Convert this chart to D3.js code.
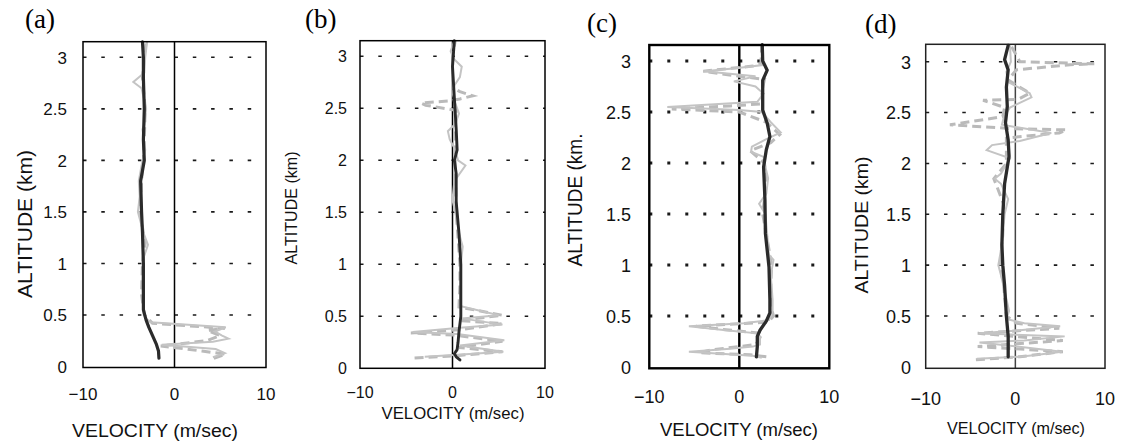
<!DOCTYPE html>
<html>
<head>
<meta charset="utf-8">
<script src="https://cdn.jsdelivr.net/npm/d3@7"></script>
<style>
body { margin: 0; background: #fff; }
</style>
</head>
<body>
<svg id="chart" width="1121" height="444"></svg>
<script>
// tick values
var altTicks = [0, 0.5, 1, 1.5, 2, 2.5, 3];
var velTicks = [-10, 0, 10];
var panelNames = ["(a)", "(b)", "(c)", "(d)"];

// each point: [altitude (km), velocity (m/sec)]
// (a)
var aDark = [[0.08,-1.7],[0.15,-1.75],[0.22,-2.0],[0.3,-2.4],[0.38,-2.8],[0.45,-3.1],[0.55,-3.4],[0.8,-3.4],[1.0,-3.4],[1.3,-3.5],[1.5,-3.6],[1.8,-3.7],[2.0,-3.3],[2.2,-3.4],[2.5,-3.3],[2.8,-3.4],[3.0,-3.4],[3.15,-3.5]];
var aSolid = [[0.09,4.2],[0.13,5.5],[0.17,4.5],[0.21,-1.4],[0.24,4.2],[0.27,5.9],[0.3,5.2],[0.34,4.4],[0.38,5.6],[0.43,-2.6],[0.47,-3.2],[0.6,-3.4],[0.8,-3.5],[1.05,-3.4],[1.18,-2.9],[1.3,-3.4],[1.5,-4.0],[1.65,-3.8],[1.8,-3.9],[1.95,-3.6],[2.1,-3.2],[2.3,-3.5],[2.35,-3.3],[2.5,-3.1],[2.7,-3.6],[2.76,-4.5],[2.85,-3.3],[3.0,-3.2],[3.15,-3.0]];
var aDashed = [[0.08,4.3],[0.12,5.6],[0.15,3.0],[0.2,-1.5],[0.25,3.5],[0.3,5.0],[0.35,3.6],[0.37,5.5],[0.42,-2.4],[0.5,-3.3],[0.7,-3.6],[1.0,-3.5],[1.2,-3.2],[1.5,-3.8],[1.8,-3.6],[2.0,-3.4],[2.2,-3.3],[2.5,-3.2],[2.8,-3.5],[3.0,-3.3],[3.15,-3.1]];

// (b)
var bDark = [[0.08,0.8],[0.11,0.4],[0.14,0.2],[0.18,0.5],[0.25,0.6],[0.35,0.7],[0.5,0.9],[0.7,0.9],[1.0,0.9],[1.15,0.8],[1.3,0.7],[1.6,0.4],[1.87,0.4],[2.0,0.2],[2.1,0.5],[2.3,0.4],[2.6,0.2],[2.9,0.0],[3.15,0.2]];
var bSolid = [[0.11,-3.0],[0.13,0.6],[0.16,5.5],[0.22,0.8],[0.27,5.6],[0.33,0.5],[0.35,-4.3],[0.39,0.8],[0.42,5.4],[0.48,1.0],[0.51,5.0],[0.6,0.8],[0.8,0.9],[1.0,0.9],[1.17,1.1],[1.3,0.7],[1.5,0.3],[1.62,0.0],[1.8,0.2],[1.95,1.4],[2.0,0.6],[2.1,0.3],[2.2,-0.3],[2.28,-0.5],[2.35,0.3],[2.45,0.7],[2.55,0.3],[2.65,0.0],[2.72,0.2],[2.8,0.8],[2.9,1.0],[2.97,0.2],[3.05,-0.2],[3.15,0.2]];
var bDashed = [[0.1,-4.1],[0.12,0.2],[0.16,5.4],[0.2,0.7],[0.26,5.4],[0.32,0.1],[0.34,-4.5],[0.37,0.7],[0.43,5.4],[0.46,0.7],[0.51,5.4],[0.59,0.7],[0.8,0.8],[1.0,0.8],[1.5,0.4],[2.0,0.3],[2.3,0.3],[2.48,0.4],[2.53,-2.9],[2.55,-3.4],[2.57,-0.5],[2.59,0.8],[2.62,2.2],[2.66,0.8],[2.7,0.0],[3.0,0.0],[3.15,0.3]];

// (c)
var cDark = [[0.1,1.9],[0.2,2.0],[0.3,2.0],[0.36,2.3],[0.45,3.0],[0.53,3.4],[0.66,3.4],[0.98,3.3],[1.31,2.9],[1.64,2.85],[1.96,2.7],[2.13,3.0],[2.26,3.4],[2.39,3.1],[2.52,2.6],[2.81,2.6],[2.91,3.1],[3.0,2.6],[3.16,2.55]];
var cSolid = [[0.09,2.5],[0.11,1.5],[0.15,-5.6],[0.18,-1.0],[0.2,1.5],[0.22,2.3],[0.3,2.3],[0.33,2.0],[0.36,-1.5],[0.4,-5.6],[0.43,0.5],[0.46,3.3],[0.55,3.7],[0.66,3.7],[0.9,3.5],[1.05,3.8],[1.1,3.3],[1.3,3.1],[1.5,2.9],[1.6,2.2],[1.7,3.0],[1.85,3.2],[2.0,2.8],[2.06,2.7],[2.11,1.3],[2.16,1.4],[2.23,2.9],[2.3,4.6],[2.4,3.5],[2.5,2.5],[2.52,0.0],[2.55,-8.0],[2.6,2.0],[2.68,2.7],[2.75,1.8],[2.8,-0.6],[2.85,1.8],[2.9,-3.9],[2.93,-0.4],[2.96,2.6],[3.16,2.6]];
var cDashed = [[0.1,3.0],[0.12,1.2],[0.14,-4.5],[0.17,-3.0],[0.2,0.0],[0.22,1.8],[0.27,2.2],[0.33,2.5],[0.35,0.2],[0.37,-2.0],[0.4,-4.8],[0.44,3.2],[0.5,3.8],[0.6,3.5],[0.8,3.5],[1.0,3.6],[1.2,3.2],[1.5,2.6],[1.8,3.0],[2.0,2.8],[2.12,1.2],[2.2,3.5],[2.28,4.5],[2.4,3.0],[2.5,0.0],[2.53,-7.5],[2.56,-1.0],[2.58,2.6],[2.7,2.5],[2.82,2.8],[2.85,0.0],[2.9,-4.0],[2.95,1.5],[2.97,2.4],[3.16,2.5]];

// (d)
var dDark = [[0.1,-0.8],[0.3,-0.8],[0.4,-0.9],[0.5,-1.0],[0.8,-1.2],[1.0,-1.4],[1.2,-1.5],[1.5,-1.4],[1.8,-1.2],[2.07,-0.7],[2.23,-0.8],[2.4,-1.1],[2.56,-0.9],[2.75,-1.0],[2.92,-0.8],[3.02,-1.2],[3.16,-0.8]];
var dSolid = [[0.08,-4.3],[0.1,0.5],[0.12,2.5],[0.15,5.2],[0.2,0.2],[0.24,-4.0],[0.26,1.0],[0.3,5.5],[0.33,-4.0],[0.36,0.5],[0.4,5.0],[0.43,1.0],[0.47,-1.0],[0.55,-0.7],[0.75,-1.2],[0.9,-1.6],[1.0,-1.9],[1.2,-1.5],[1.5,-1.2],[1.65,-0.8],[1.8,-1.6],[1.85,-2.3],[1.9,-1.6],[2.05,-0.6],[2.13,-3.2],[2.18,-2.6],[2.22,0.5],[2.3,4.0],[2.38,-1.5],[2.45,-1.3],[2.55,-0.6],[2.65,1.8],[2.69,1.6],[2.8,-0.8],[2.9,-1.0],[3.0,-0.5],[3.16,-0.6]];
var dDashed = [[0.07,-4.4],[0.1,0.5],[0.15,5.3],[0.2,-4.2],[0.26,5.3],[0.33,-4.2],[0.38,4.9],[0.43,0.1],[0.5,-1.0],[0.8,-1.3],[1.0,-1.7],[1.3,-1.4],[1.6,-1.3],[1.85,-2.4],[2.0,-1.0],[2.25,-1.0],[2.3,4.9],[2.33,5.7],[2.34,0.1],[2.38,-7.3],[2.46,-1.4],[2.55,-1.2],[2.62,-3.6],[2.63,0.3],[2.69,1.6],[2.82,-0.8],[2.92,0.1],[2.97,6.1],[2.98,8.8],[3.0,0.5],[3.16,-0.5]];

// layout of the four panels
var panels = [
    { dark: aDark, solid: aSolid, dashed: aDashed,
      left: 83, right: 266, y0: 366.5, y3: 57.3, top: 41.7, bottom: 367.5,
      frame: 1.5, grid: "3.5,14.8", gridW: 1.6, darkW: 3.2,
      lab: [25, 28], yT: [32, 224, 148, 21], xT: [155, 437, 166, 18],
      tickR: 67, tickB: 400, tickSize: 17 },
    { dark: bDark, solid: bSolid, dashed: bDashed,
      left: 360, right: 545, y0: 368.3, y3: 56.3, top: 40.7, bottom: 368.3,
      frame: 1.5, grid: "3.5,14.8", gridW: 1.6, darkW: 2.9,
      lab: [305, 28], yT: [297, 208, 113, 16.5], xT: [453, 419, 143, 16.5],
      tickR: 347, tickB: 398, tickSize: 16 },
    { dark: cDark, solid: cSolid, dashed: cDashed,
      left: 649.3, right: 829.3, y0: 367, y3: 61, top: 45, bottom: 368.3,
      frame: 2.4, grid: "3,15", gridW: 3, darkW: 3.3,
      lab: [587, 31.5], yT: [581.7, 200, 133, 19.5], xT: [739, 436, 158, 17.5],
      tickR: 631, tickB: 403, tickSize: 18 },
    { dark: dDark, solid: dSolid, dashed: dDashed,
      left: 925.7, right: 1105, y0: 366.9, y3: 61.7, top: 44.3, bottom: 368.3,
      frame: 1.5, grid: "3.5,14.8", gridW: 1.6, darkW: 3.3,
      lab: [865, 33], yT: [868, 225, 137, 19], xT: [1016, 434, 138, 17],
      tickR: 911, tickB: 405, tickSize: 18 }
];
var yTitles = ["ALTITUDE (km)", "ALTITUDE (km)", "ALTITUDE (km.", "ALTITUDE (km)"];

var svg = d3.select("#chart");

panels.forEach(function(p, i) {
    var x = d3.scaleLinear().domain([-10, 10]).range([p.left, p.right]);
    var y = d3.scaleLinear().domain([0, 3]).range([p.y0, p.y3]);
    var g = svg.append("g");

    // dotted grid lines
    g.selectAll(".grid")
        .data(altTicks.filter(function(d) { return d > 0; }))
        .enter().append("line")
        .attr("x1", p.left).attr("x2", p.right)
        .attr("y1", function(d) { return y(d); })
        .attr("y2", function(d) { return y(d); })
        .attr("stroke", "#1a1a1a")
        .attr("stroke-width", p.gridW)
        .attr("stroke-dasharray", p.grid);

    // zero line
    g.append("line")
        .attr("x1", x(0)).attr("x2", x(0))
        .attr("y1", p.top).attr("y2", p.bottom)
        .attr("stroke", i == 3 ? "#444" : "#000")
        .attr("stroke-width", p.frame);

    var line = d3.line()
        .x(function(d) { return x(d[1]); })
        .y(function(d) { return y(d[0]); });

    g.append("path").datum(p.dashed)
        .attr("d", line)
        .attr("fill", "none")
        .attr("stroke", "#bababa")
        .attr("stroke-width", 3)
        .attr("stroke-dasharray", "9,5");

    g.append("path").datum(p.solid)
        .attr("d", line)
        .attr("fill", "none")
        .attr("stroke", "#c4c4c4")
        .attr("stroke-width", 2);

    g.append("path").datum(p.dark)
        .attr("d", line)
        .attr("fill", "none")
        .attr("stroke", "#2b2b2b")
        .attr("stroke-width", p.darkW)
        .attr("stroke-linejoin", "round")
        .attr("stroke-linecap", "round");

    // frame
    g.append("rect")
        .attr("x", p.left).attr("y", p.top)
        .attr("width", p.right - p.left)
        .attr("height", p.bottom - p.top)
        .attr("fill", "none")
        .attr("stroke", i == 3 ? "#222" : "#000")
        .attr("stroke-width", p.frame);

    // y tick labels
    g.selectAll(".ytick")
        .data(altTicks)
        .enter().append("text")
        .attr("x", p.tickR)
        .attr("y", function(d) { return y(d) + p.tickSize * 0.38; })
        .attr("text-anchor", "end")
        .attr("font-family", "'Liberation Sans', Arial, sans-serif")
        .attr("font-size", p.tickSize + "px")
        .attr("fill", "#111")
        .text(function(d) { return d; });

    // x tick labels
    g.selectAll(".xtick")
        .data(velTicks)
        .enter().append("text")
        .attr("x", function(d) { return x(d); })
        .attr("y", p.tickB)
        .attr("text-anchor", "middle")
        .attr("font-family", "'Liberation Sans', Arial, sans-serif")
        .attr("font-size", p.tickSize + "px")
        .attr("fill", "#111")
        .text(function(d) { return d < 0 ? "\u2212" + Math.abs(d) : d; });

    // panel letter
    g.append("text")
        .attr("x", p.lab[0]).attr("y", p.lab[1])
        .attr("font-family", "'Liberation Serif', 'Times New Roman', serif")
        .attr("font-size", "27px")
        .attr("fill", "#000")
        .text(panelNames[i]);

    // axis titles
    g.append("text")
        .attr("transform", "translate(" + p.yT[0] + "," + p.yT[1] + ") rotate(-90)")
        .attr("text-anchor", "middle")
        .attr("font-family", "'Liberation Sans', Arial, sans-serif")
        .attr("font-size", p.yT[3] + "px")
        .attr("textLength", p.yT[2])
        .attr("lengthAdjust", "spacingAndGlyphs")
        .attr("fill", "#111")
        .text(yTitles[i]);

    g.append("text")
        .attr("x", p.xT[0]).attr("y", p.xT[1])
        .attr("text-anchor", "middle")
        .attr("font-family", "'Liberation Sans', Arial, sans-serif")
        .attr("font-size", p.xT[3] + "px")
        .attr("textLength", p.xT[2])
        .attr("lengthAdjust", "spacingAndGlyphs")
        .attr("fill", "#111")
        .text("VELOCITY (m/sec)");
});
</script>
</body>
</html>
